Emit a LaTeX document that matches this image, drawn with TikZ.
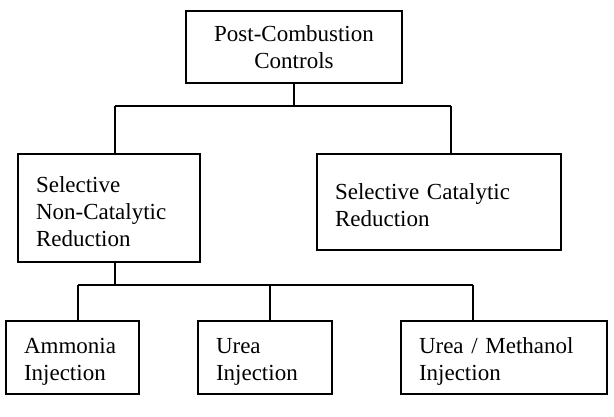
\documentclass[tikz,border=0pt]{standalone}
\usepackage{fontspec}
\setmainfont{Liberation Serif}
\usetikzlibrary{positioning}

\begin{document}
\begin{tikzpicture}[
    x=1pt, y=-1pt,
    line width=1.3pt,
    font=\fontsize{23}{27}\selectfont,
    box/.style={draw, rectangle, inner xsep=18pt, inner ysep=2pt, align=left,
        execute at begin node={\rule{0pt}{23pt}}},
    topbox/.style={draw, rectangle, inner sep=2pt, align=center,
        execute at begin node={\rule{0pt}{22pt}}}
]
\useasboundingbox (0,0) rectangle (614,416);

% Top level
\node[topbox, minimum width=216pt, minimum height=72pt] (post) at (294,47)
    {Post-Combustion\\Controls};

% Second level
\node[box, text width=146pt, minimum height=108pt] (sncr) at (109,208)
    {Selective\\Non-Catalytic\\Reduction};
\node[box, text width=208pt, minimum height=96pt] (scr) at (439,202)
    {Selective Catalytic\\Reduction};

% Third level
\node[box, text width=97pt, minimum height=73pt] (amm) at (72.5,357.5)
    {Ammonia\\Injection};
\node[box, text width=98pt, minimum height=73pt] (urea) at (265,357.5)
    {Urea\\Injection};
\node[box, text width=170pt, minimum height=73pt] (meth) at (504,357.5)
    {Urea / Methanol\\Injection};

% Junctions
\coordinate (busL) at (115,106);
\coordinate (busR) at (451,106);
\coordinate (subL) at (78,285);
\coordinate (subM) at (270,285);
\coordinate (subR) at (473,285);
\coordinate (subT) at (115,285);

% Connectors
\draw (post.south) -- (post.south |- busL);
\draw (busL) -- (busR);
\draw (busL) -- (busL |- sncr.north);
\draw (busR) -- (busR |- scr.north);

\draw (subT |- sncr.south) -- (subT);
\draw (subL) -- (subR);
\draw (subL) -- (subL |- amm.north);
\draw (subM) -- (subM |- urea.north);
\draw (subR) -- (subR |- meth.north);

\end{tikzpicture}
\end{document}
